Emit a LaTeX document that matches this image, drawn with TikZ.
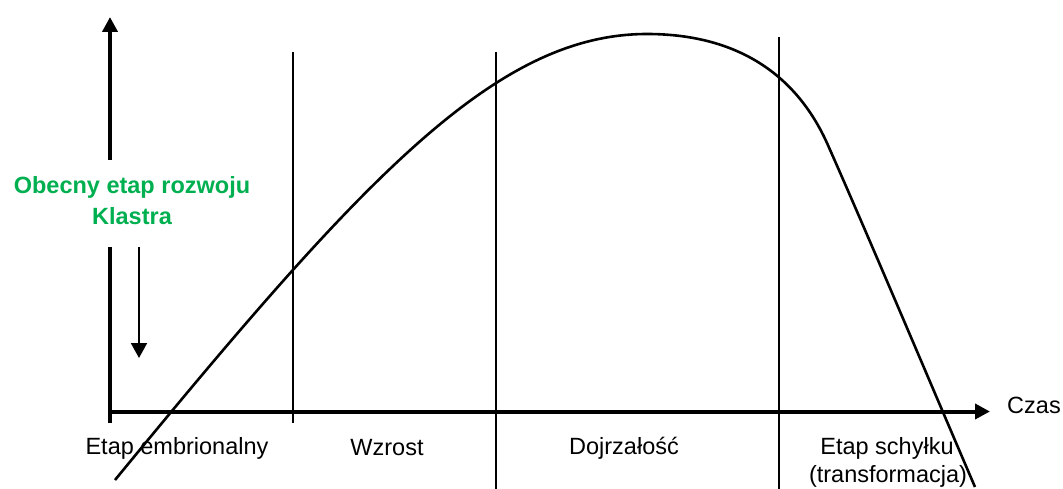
\documentclass[tikz,border=0pt]{standalone}
\usepackage{fontspec}
\setmainfont{Liberation Sans}
\usetikzlibrary{arrows.meta}
\definecolor{lblgreen}{HTML}{00B050}
\tikzset{
  axisline/.style={line width=4pt},
  divline/.style={line width=1.5pt},
  curveline/.style={line width=2.6pt, line join=round},
  bigtip/.style={-{Triangle[length=15pt,width=15pt]}},
  lbl/.style={inner sep=0pt, font=\fontsize{23.5}{28}\selectfont},
  greenlbl/.style={inner sep=0pt, align=center, text=lblgreen, font=\fontsize{23.5}{31}\selectfont\bfseries},
}
\begin{document}
\begin{tikzpicture}[x=1pt,y=-1pt]
\useasboundingbox (0,0) rectangle (1063,489);
% named points
\coordinate (origin) at (108,411.5);
\coordinate (ybot) at (110,423);
\coordinate (ylowtop) at (110,247);
\coordinate (yupbot) at (110,160);
\coordinate (ytip) at (110,17);
\coordinate (xtip) at (990,411.5);
\coordinate (dntop) at (139,247);
\coordinate (dntip) at (139,358);
\coordinate (d1t) at (293,52);
\coordinate (d1b) at (293,423);
\coordinate (d2t) at (496,52);
\coordinate (d2b) at (496,489);
\coordinate (d3t) at (779,37);
\coordinate (d3b) at (779,489);
\coordinate (cstart) at (115,480);
\coordinate (cpeak) at (647,34);
\coordinate (cbend) at (827,143);
\coordinate (cend) at (975,487);
% divider lines
\draw[divline] (d1t) -- (d1b);
\draw[divline] (d2t) -- (d2b);
\draw[divline] (d3t) -- (d3b);
% axes
\draw[axisline] (ybot) -- (ylowtop);
\draw[axisline,bigtip] (yupbot) -- (ytip);
\draw[axisline,bigtip] (origin) -- (xtip);
% down arrow
\draw[line width=2pt,-{Triangle[length=15pt,width=16pt]}] (dntop) -- (dntip);
% curve
\draw[curveline] (cstart)
  .. controls (365,175) and (497,34) .. (cpeak)
  .. controls (727,34) and (792,66) .. (cbend)
  .. controls (867,233) and (935,394) .. (cend);
% labels
\node[greenlbl] (green) at (132,201) {Obecny etap rozwoju\\Klastra};
\node[lbl] (czas) at (1034,405) {Czas};
\node[lbl] (emb) at (177,448) {Etap embrionalny};
\node[lbl] (wzr) at (387,448) {Wzrost};
\node[lbl] (doj) at (624,448) {Dojrzałość};
\node[lbl] (sch) at (887,448) {Etap schyłku};
\node[lbl] (tra) at (888,476) {(transformacja)};
\end{tikzpicture}
\end{document}
